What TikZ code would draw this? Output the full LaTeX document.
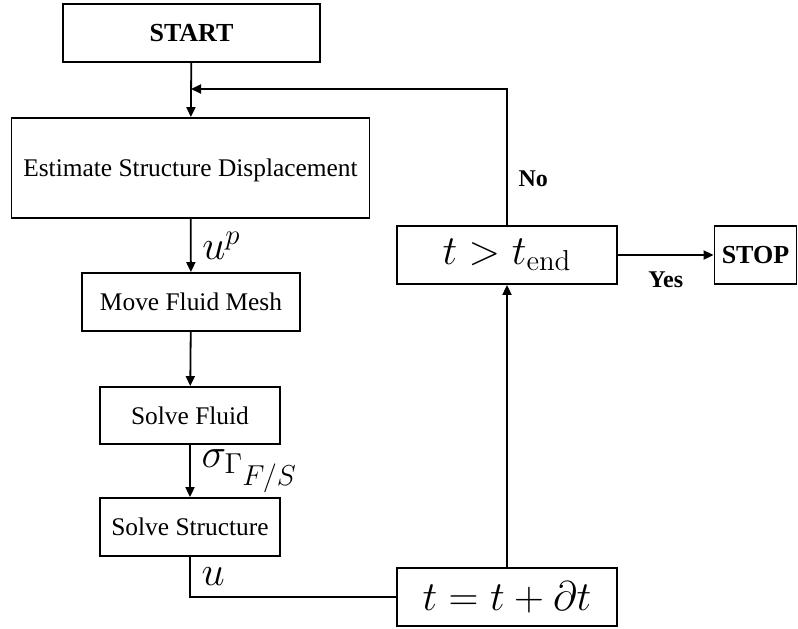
\documentclass[tikz,border=0pt]{standalone}
\usepackage[no-math]{fontspec}
\setmainfont{Liberation Serif}
\usepackage{amsmath}
\usetikzlibrary{arrows.meta,positioning,calc}

\begin{document}
\begin{tikzpicture}[
    x=0.5pt, y=-0.5pt,
    box/.style={draw, line width=0.9pt, inner sep=0pt, align=center, minimum height=29pt, font=\fontsize{12.7}{15}\selectfont},
    bigmath/.style={font=\fontsize{21}{25}\selectfont},
    answer/.style={font=\fontsize{12}{14}\selectfont\bfseries},
    arrow/.style={-{Triangle[length=5pt,width=4.5pt]}, line width=0.9pt},
    link/.style={line width=0.9pt},
]
    \useasboundingbox (0,0) rectangle (798,628);

    % Solver steps
    \node[box, minimum width=128.5pt, font=\fontsize{13}{15}\selectfont\bfseries] (start) at (191.5,33) {START};
    \node[box, minimum width=179pt, minimum height=50pt, text depth=-4pt] (estimate) at (190.5,168) {Estimate Structure Displacement};
    \node[box, minimum width=109pt] (mesh) at (191,302) {Move Fluid Mesh};
    \node[box, minimum width=90pt, minimum height=28.5pt] (fluid) at (190,415.5) {Solve Fluid};
    \node[box, minimum width=90pt] (structure) at (190,527) {Solve Structure};

    % Time loop
    \node[box, bigmath, minimum width=110pt] (update) at (507,597) {$t = t + \partial t$};
    \node[box, bigmath, minimum width=110pt] (check) at (507,255) {$t > t_{\mathrm{end}}$};
    \node[box, minimum width=41pt, font=\fontsize{13}{15}\selectfont\bfseries] (stop) at (755.5,255) {STOP};
    \coordinate (loop) at (191,89);

    % Connectors
    \draw[arrow] (start) -- (estimate);
    \draw[arrow] (estimate) -- node[right, bigmath, xshift=2pt] {$u^p$} (mesh);
    \draw[arrow] (mesh) -- (fluid);
    \draw[arrow] (fluid) -- node[right, bigmath, xshift=2pt] {$\sigma_{\Gamma_{\scriptstyle F/S}}$} (structure);
    \draw[link] (structure.south) -- node[right, bigmath, xshift=2pt] {$u$} (structure.south |- update.west) -- (update.west);
    \draw[arrow] (update) -- (check);
    \draw[arrow] (check) -- node[below, answer, yshift=-4.5pt] {Yes} (stop);
    \draw[arrow] (check.north) -- node[pos=0.34, right, answer, xshift=2pt] {No} (check.north |- loop) -- (loop);
\end{tikzpicture}
\end{document}
